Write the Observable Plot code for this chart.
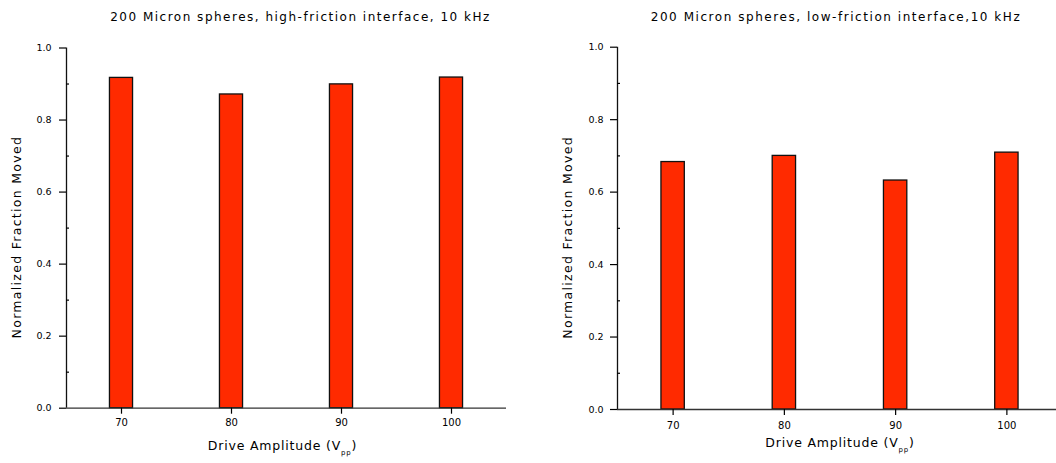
<!DOCTYPE html>
<html><head><meta charset="utf-8">
<script src="https://cdn.jsdelivr.net/npm/d3@7"></script>
<script src="https://cdn.jsdelivr.net/npm/@observablehq/plot@0.6"></script>
<style>
html,body{margin:0;padding:0;background:#fff;overflow:hidden;width:1056px;height:463px}
#c{position:relative;width:1056px;height:463px;overflow:hidden}
#c svg{position:absolute;top:0;font-family:"DejaVu Sans",Verdana,sans-serif;overflow:visible}
</style></head><body><div id="c"></div>
<script>
const amplitudes = [70, 80, 90, 100];
const highFriction = [0.917, 0.871, 0.899, 0.918];
const lowFriction = [0.683, 0.700, 0.632, 0.709];
const titles = ["200 Micron spheres, high-friction interface, 10 kHz", "200 Micron spheres, low-friction interface,10 kHz"];
const yLabel = "Normalized Fraction Moved";
const xLabel = "Drive Amplitude (V";
const xSub = "pp";
const xClose = ")";
const yMajor = [0, 0.2, 0.4, 0.6, 0.8, 1.0];
const yMinor = [0.1, 0.3, 0.5, 0.7, 0.9];

const BAR_HALF = 1.05;

function panel(values, title, o) {
  const data = amplitudes.map((a, i) => ({amp: a, value: values[i]}));
  const svg = Plot.plot({
    width: o.width, height: 463,
    marginLeft: o.ml, marginRight: o.mr, marginTop: o.mt, marginBottom: o.mb,
    style: {fontFamily: '"DejaVu Sans", Verdana, sans-serif', color: "#000", background: "transparent", overflow: "visible"},
    x: {domain: [65, 105], axis: null},
    y: {domain: [0, 1], axis: null},
    marks: [
      Plot.rectY(data, {x1: d => d.amp - BAR_HALF, x2: d => d.amp + BAR_HALF, y: "value", fill: "#ff2a00", stroke: "#111", strokeWidth: 1.3}),
      Plot.ruleX([65], {y1: 0, y2: 1, stroke: "#111", strokeWidth: 1.3}),
      Plot.ruleY([0], {stroke: "#333", strokeWidth: 1.3}),
      Plot.axisY(yMajor, {tickSize: 7, tickPadding: o.ytp, tickFormat: d => d.toFixed(1), fontSize: 9.5, label: null, strokeWidth: 1.2}),
      Plot.axisY(yMinor, {tickSize: -3, tickFormat: () => "", label: null, strokeWidth: 1.2}),
      Plot.axisX(amplitudes, {tickSize: 6, tickPadding: o.xtp, fontSize: 10, label: null, strokeWidth: 1.2}),
      Plot.text([title], {frameAnchor: "top", dx: o.tdx, dy: o.tdy, fontSize: 12, fill: "#000"}),
      Plot.text([yLabel], {frameAnchor: "left", textAnchor: "middle", rotate: -90, dx: o.ydx, dy: o.ydy, fontSize: 12.5, fill: "#000"}),
      Plot.text([xLabel], {frameAnchor: "bottom", dx: o.xdx, dy: o.xdy, fontSize: 12.5, fill: "#000"})
    ]
  });
  svg.style.left = o.left + "px";
  const ns = "http://www.w3.org/2000/svg";
  svg.querySelectorAll("text").forEach(t => {
    const s = t.textContent;
    if (s === title) t.setAttribute("letter-spacing", o.tls);
    if (s === yLabel) t.setAttribute("letter-spacing", "1.3");
    if (s === xLabel) {
      t.setAttribute("letter-spacing", "0.8");
      t.textContent = "";
      const a = document.createElementNS(ns, "tspan"); a.textContent = s; t.appendChild(a);
      const b = document.createElementNS(ns, "tspan"); b.textContent = xSub; b.setAttribute("font-size", "7"); b.setAttribute("dy", "5"); t.appendChild(b);
      const c = document.createElementNS(ns, "tspan"); c.textContent = xClose; c.setAttribute("dy", "-5"); t.appendChild(c);
    }
  });
  return svg;
}

const c = document.getElementById("c");
c.appendChild(panel(highFriction, titles[0], {left: 0, width: 530, ml: 66, mr: 24, mt: 47.5, mb: 55.3, ytp: 8, xtp: 5, tdx: 14, tdy: -36, ydx: -50, ydy: 9, xdx: -4, xdy: 42, tls: "1.5"}));
c.appendChild(panel(lowFriction, titles[1], {left: 530, width: 532, ml: 87, mr: 0, mt: 46.7, mb: 54, ytp: 7, xtp: 6, tdx: -4, tdy: -35, ydx: -50, ydy: 9, xdx: 0, xdy: 37, tls: "1.55"}));
</script>
</body></html>
